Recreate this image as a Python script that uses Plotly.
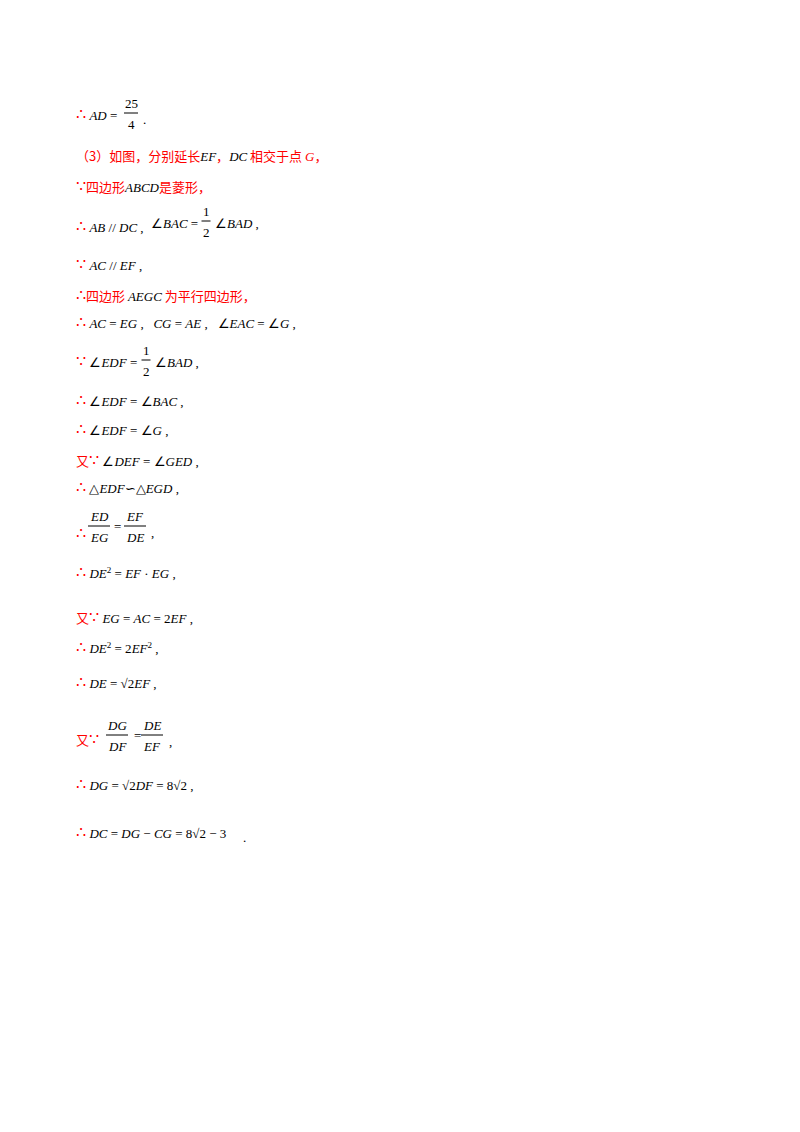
import plotly.graph_objects as go

R = "#ff0000"
SERIF = "Liberation Serif"
CJK = "Noto Sans CJK SC"

def m(t):
    return f"<span style='color:black;font-family:{SERIF}'>{t}</span>"
def r(t):
    return f"<span style='color:{R};font-family:{CJK}'>{t}</span>"
def s(t):
    return f"<span style='color:{R};font-family:{SERIF};font-size:16px'>{t}</span>"
def rs(t):
    return f"<span style='color:{R};font-family:{SERIF}'>{t}</span>"

lines = [
    (75, 116, s("∴") + " " + m("<i>AD</i> =")),
    (142, 120, m(".")),
    (75, 156, r("（3）如图，分别延长") + m("<i>EF</i>") + r("，") + m("<i>DC</i>") + r(" 相交于点 ") + rs("<i>G</i>") + r("，")),
    (75, 187, s("∵") + r("四边形") + m("<i>ABCD</i>") + r("是菱形，")),
    (75, 228, s("∴") + " " + m("<i>AB</i> // <i>DC</i> ,")),
    (150, 224, m("∠<i>BAC</i> =")),
    (214, 224, m("∠<i>BAD</i> ,")),
    (75, 266, s("∵") + " " + m("<i>AC</i> // <i>EF</i> ,")),
    (75, 296, s("∴") + r("四边形 ") + m("<i>AEGC</i>") + r(" 为平行四边形，")),
    (75, 324, s("∴") + " " + m("<i>AC</i> = <i>EG</i> ,   <i>CG</i> = <i>AE</i> ,   ∠<i>EAC</i> = ∠<i>G</i> ,")),
    (75, 363, s("∵") + " " + m("∠<i>EDF</i> =")),
    (154, 363, m("∠<i>BAD</i> ,")),
    (75, 402, s("∴") + " " + m("∠<i>EDF</i> = ∠<i>BAC</i> ,")),
    (75, 431, s("∴") + " " + m("∠<i>EDF</i> = ∠<i>G</i> ,")),
    (75, 461, r("又") + s("∵") + " " + m("∠<i>DEF</i> = ∠<i>GED</i> ,")),
    (75, 489, s("∴") + " " + m("△<i>EDF</i>∽△<i>EGD</i> ,")),
    (75, 534, s("∴")),
    (113, 527, m("=")),
    (150, 533, m(",")),
    (75, 574, s("∴") + " " + m("<i>DE</i><sup>2</sup> = <i>EF</i> · <i>EG</i> ,")),
    (75, 618, r("又") + s("∵") + " " + m("<i>EG</i> = <i>AC</i> = 2<i>EF</i> ,")),
    (75, 649, s("∴") + " " + m("<i>DE</i><sup>2</sup> = 2<i>EF</i><sup>2</sup> ,")),
    (75, 684, s("∴") + " " + m("<i>DE</i> = √2<i>EF</i> ,")),
    (75, 740, r("又") + s("∵")),
    (133, 736, m("=")),
    (168, 742, m(",")),
    (75, 786, s("∴") + " " + m("<i>DG</i> = √2<i>DF</i> = 8√2 ,")),
    (75, 834, s("∴") + " " + m("<i>DC</i> = <i>DG</i> − <i>CG</i> = 8√2 − 3")),
    (242, 838, m(".")),
]

fracs = [
    (132, 114, "25", "4", 14),
    (207, 222, "1", "2", 9),
    (147, 361, "1", "2", 9),
    (100, 527, "<i>ED</i>", "<i>EG</i>", 22),
    (136, 527, "<i>EF</i>", "<i>DE</i>", 22),
    (118, 736, "<i>DG</i>", "<i>DF</i>", 22),
    (153, 736, "<i>DE</i>", "<i>EF</i>", 22),
]

fig = go.Figure()
ann = []
for x, y, t in lines:
    ann.append(dict(x=x, y=y, text=t, xref="x", yref="y", showarrow=False,
                    xanchor="left", yanchor="middle", font=dict(size=13, color="black")))
shapes = []
for xc, y, n, d, w in fracs:
    ann.append(dict(x=xc, y=y - 10, text=m(n), showarrow=False, xanchor="center", yanchor="middle",
                    font=dict(size=13, color="black")))
    ann.append(dict(x=xc, y=y + 11, text=m(d), showarrow=False, xanchor="center", yanchor="middle",
                    font=dict(size=13, color="black")))
    shapes.append(dict(type="line", xref="x", yref="y", x0=xc - w / 2, x1=xc + w / 2, y0=y, y1=y,
                       line=dict(color="black", width=1)))

fig.update_layout(width=800, height=1132, margin=dict(l=0, r=0, t=0, b=0),
                  paper_bgcolor="white", plot_bgcolor="white",
                  xaxis=dict(range=[9, 809], visible=False),
                  yaxis=dict(range=[1141, 9], visible=False),
                  annotations=ann, shapes=shapes, showlegend=False)
fig.write_html("out.html")
